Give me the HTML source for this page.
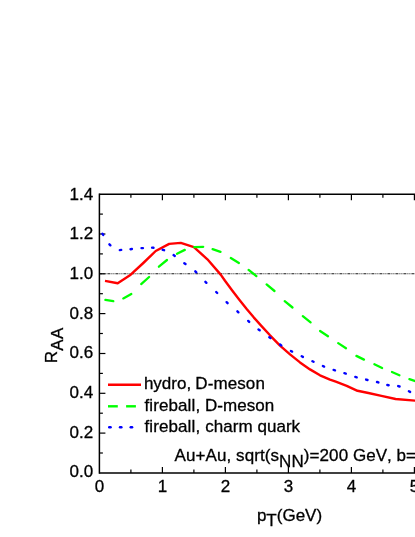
<!DOCTYPE html>
<html><head><meta charset="utf-8"><title>RAA</title>
<style>
html,body{margin:0;padding:0;background:#fff;}
body{width:415px;height:537px;overflow:hidden;font-family:"Liberation Sans",sans-serif;}
svg{display:block;will-change:transform;}
text{font-family:"Liberation Sans",sans-serif;fill:#000;font-kerning:none;stroke:#000;stroke-width:0.3px;}
</style></head><body>
<svg width="415" height="537" viewBox="0 0 415 537">
<rect width="415" height="537" fill="#fff"/>
<line x1="99.4" y1="273.8" x2="416" y2="273.8" stroke="#1a1a1a" stroke-width="1.1" stroke-dasharray="3 1 1 1 1 1"/>
<g stroke="#000" stroke-width="1.5" fill="none">
<line x1="99.4" y1="193.39999999999998" x2="99.4" y2="473.7"/>
<line x1="99.4" y1="194.2" x2="416" y2="194.2"/>
<line x1="99.4" y1="472.9" x2="416" y2="472.9"/>
</g>
<g stroke="#000" stroke-width="1.2">
<line x1="130.9" y1="472.9" x2="130.9" y2="469.4"/>
<line x1="130.9" y1="194.2" x2="130.9" y2="197.7"/>
<line x1="162.4" y1="472.9" x2="162.4" y2="466.9"/>
<line x1="162.4" y1="194.2" x2="162.4" y2="200.2"/>
<line x1="193.9" y1="472.9" x2="193.9" y2="469.4"/>
<line x1="193.9" y1="194.2" x2="193.9" y2="197.7"/>
<line x1="225.4" y1="472.9" x2="225.4" y2="466.9"/>
<line x1="225.4" y1="194.2" x2="225.4" y2="200.2"/>
<line x1="256.9" y1="472.9" x2="256.9" y2="469.4"/>
<line x1="256.9" y1="194.2" x2="256.9" y2="197.7"/>
<line x1="288.4" y1="472.9" x2="288.4" y2="466.9"/>
<line x1="288.4" y1="194.2" x2="288.4" y2="200.2"/>
<line x1="319.9" y1="472.9" x2="319.9" y2="469.4"/>
<line x1="319.9" y1="194.2" x2="319.9" y2="197.7"/>
<line x1="351.4" y1="472.9" x2="351.4" y2="466.9"/>
<line x1="351.4" y1="194.2" x2="351.4" y2="200.2"/>
<line x1="382.9" y1="472.9" x2="382.9" y2="469.4"/>
<line x1="382.9" y1="194.2" x2="382.9" y2="197.7"/>
<line x1="414.4" y1="472.9" x2="414.4" y2="466.9"/>
<line x1="414.4" y1="194.2" x2="414.4" y2="200.2"/>
<line x1="99.4" y1="453.0" x2="102.9" y2="453.0"/>
<line x1="99.4" y1="433.1" x2="105.4" y2="433.1"/>
<line x1="99.4" y1="413.2" x2="102.9" y2="413.2"/>
<line x1="99.4" y1="393.3" x2="105.4" y2="393.3"/>
<line x1="99.4" y1="373.4" x2="102.9" y2="373.4"/>
<line x1="99.4" y1="353.5" x2="105.4" y2="353.5"/>
<line x1="99.4" y1="333.5" x2="102.9" y2="333.5"/>
<line x1="99.4" y1="313.6" x2="105.4" y2="313.6"/>
<line x1="99.4" y1="293.7" x2="102.9" y2="293.7"/>
<line x1="99.4" y1="273.8" x2="105.4" y2="273.8"/>
<line x1="99.4" y1="253.9" x2="102.9" y2="253.9"/>
<line x1="99.4" y1="234.0" x2="105.4" y2="234.0"/>
<line x1="99.4" y1="214.1" x2="102.9" y2="214.1"/>
</g>
<polyline fill="none" stroke="#ff0000" stroke-width="2.4" stroke-linejoin="round" points="105.0,280.9 117.7,283.2 130.7,274.7 143.3,263 155.7,251 169.2,243.9 180.8,242.9 193.9,247.2 207.4,259.3 220.9,274.9 225,280.8 232.2,290.5 239.5,299.9 246.7,309.0 253.9,317.6 261.1,325.6 270,335.3 280,345.6 290,354.4 300,362.4 310,369.4 320,375.3 330,379.6 335.8,381.7 346.7,385.8 357.5,390.8 368.4,393.0 381.4,395.8 395.6,399.0 418,400.9"/>
<line x1="105.4" y1="299.9" x2="113.3" y2="301.2" stroke="#00ff00" stroke-width="2.3" stroke-linecap="round"/>
<line x1="123.3" y1="298.4" x2="131.3" y2="294.0" stroke="#00ff00" stroke-width="2.3" stroke-linecap="round"/>
<line x1="141.2" y1="284.1" x2="149.1" y2="277.0" stroke="#00ff00" stroke-width="2.3" stroke-linecap="round"/>
<line x1="158.9" y1="266.7" x2="167.0" y2="260.0" stroke="#00ff00" stroke-width="2.3" stroke-linecap="round"/>
<line x1="177.0" y1="253.7" x2="184.8" y2="249.9" stroke="#00ff00" stroke-width="2.3" stroke-linecap="round"/>
<line x1="194.3" y1="247.2" x2="203.2" y2="246.8" stroke="#00ff00" stroke-width="2.3" stroke-linecap="round"/>
<line x1="212.6" y1="249.2" x2="220.5" y2="251.9" stroke="#00ff00" stroke-width="2.3" stroke-linecap="round"/>
<line x1="230.8" y1="258.0" x2="238.9" y2="263.0" stroke="#00ff00" stroke-width="2.3" stroke-linecap="round"/>
<line x1="248.6" y1="269.9" x2="256.4" y2="276.1" stroke="#00ff00" stroke-width="2.3" stroke-linecap="round"/>
<line x1="266.6" y1="284.4" x2="274.5" y2="291.0" stroke="#00ff00" stroke-width="2.3" stroke-linecap="round"/>
<line x1="284.7" y1="301.2" x2="292.5" y2="307.5" stroke="#00ff00" stroke-width="2.3" stroke-linecap="round"/>
<line x1="302.8" y1="316.2" x2="310.6" y2="322.4" stroke="#00ff00" stroke-width="2.3" stroke-linecap="round"/>
<line x1="320.1" y1="331.0" x2="328.0" y2="336.2" stroke="#00ff00" stroke-width="2.3" stroke-linecap="round"/>
<line x1="338.2" y1="343.1" x2="346.0" y2="348.2" stroke="#00ff00" stroke-width="2.3" stroke-linecap="round"/>
<line x1="356.4" y1="355.9" x2="364.0" y2="359.6" stroke="#00ff00" stroke-width="2.3" stroke-linecap="round"/>
<line x1="374.4" y1="364.3" x2="382.1" y2="368.0" stroke="#00ff00" stroke-width="2.3" stroke-linecap="round"/>
<line x1="392.0" y1="372.0" x2="399.4" y2="375.2" stroke="#00ff00" stroke-width="2.3" stroke-linecap="round"/>
<line x1="409.4" y1="379.1" x2="417.6" y2="381.9" stroke="#00ff00" stroke-width="2.3" stroke-linecap="round"/>
<line x1="102.4" y1="233.7" x2="103.2" y2="234.9" stroke="#0000ff" stroke-width="2.4" stroke-linecap="round"/>
<line x1="109.4" y1="244.3" x2="110.4" y2="245.3" stroke="#0000ff" stroke-width="2.4" stroke-linecap="round"/>
<line x1="119.8" y1="250.1" x2="121.2" y2="249.9" stroke="#0000ff" stroke-width="2.4" stroke-linecap="round"/>
<line x1="130.5" y1="249.2" x2="131.9" y2="249.0" stroke="#0000ff" stroke-width="2.4" stroke-linecap="round"/>
<line x1="141.5" y1="248.1" x2="142.9" y2="248.1" stroke="#0000ff" stroke-width="2.4" stroke-linecap="round"/>
<line x1="152.1" y1="247.6" x2="153.5" y2="247.8" stroke="#0000ff" stroke-width="2.4" stroke-linecap="round"/>
<line x1="162.7" y1="249.8" x2="164.1" y2="250.2" stroke="#0000ff" stroke-width="2.4" stroke-linecap="round"/>
<line x1="173.6" y1="255.1" x2="174.8" y2="255.9" stroke="#0000ff" stroke-width="2.4" stroke-linecap="round"/>
<line x1="184.3" y1="263.2" x2="185.5" y2="264.0" stroke="#0000ff" stroke-width="2.4" stroke-linecap="round"/>
<line x1="195.3" y1="271.3" x2="196.3" y2="272.3" stroke="#0000ff" stroke-width="2.4" stroke-linecap="round"/>
<line x1="205.4" y1="281.8" x2="206.4" y2="282.8" stroke="#0000ff" stroke-width="2.4" stroke-linecap="round"/>
<line x1="216.2" y1="292.0" x2="217.2" y2="293.0" stroke="#0000ff" stroke-width="2.4" stroke-linecap="round"/>
<line x1="226.6" y1="302.2" x2="227.6" y2="303.2" stroke="#0000ff" stroke-width="2.4" stroke-linecap="round"/>
<line x1="237.4" y1="311.3" x2="238.4" y2="312.3" stroke="#0000ff" stroke-width="2.4" stroke-linecap="round"/>
<line x1="248.2" y1="320.9" x2="249.2" y2="321.9" stroke="#0000ff" stroke-width="2.4" stroke-linecap="round"/>
<line x1="258.5" y1="329.5" x2="259.7" y2="330.3" stroke="#0000ff" stroke-width="2.4" stroke-linecap="round"/>
<line x1="269.3" y1="337.2" x2="270.5" y2="338.0" stroke="#0000ff" stroke-width="2.4" stroke-linecap="round"/>
<line x1="280.1" y1="344.6" x2="281.3" y2="345.4" stroke="#0000ff" stroke-width="2.4" stroke-linecap="round"/>
<line x1="290.9" y1="351.0" x2="292.1" y2="351.6" stroke="#0000ff" stroke-width="2.4" stroke-linecap="round"/>
<line x1="301.7" y1="356.3" x2="302.9" y2="356.9" stroke="#0000ff" stroke-width="2.4" stroke-linecap="round"/>
<line x1="312.4" y1="361.2" x2="313.6" y2="361.8" stroke="#0000ff" stroke-width="2.4" stroke-linecap="round"/>
<line x1="322.9" y1="366.0" x2="324.1" y2="366.6" stroke="#0000ff" stroke-width="2.4" stroke-linecap="round"/>
<line x1="333.6" y1="369.9" x2="335.0" y2="370.3" stroke="#0000ff" stroke-width="2.4" stroke-linecap="round"/>
<line x1="344.4" y1="373.2" x2="345.8" y2="373.6" stroke="#0000ff" stroke-width="2.4" stroke-linecap="round"/>
<line x1="355.3" y1="376.9" x2="356.7" y2="377.3" stroke="#0000ff" stroke-width="2.4" stroke-linecap="round"/>
<line x1="366.1" y1="379.6" x2="367.5" y2="380.0" stroke="#0000ff" stroke-width="2.4" stroke-linecap="round"/>
<line x1="377.0" y1="382.0" x2="378.4" y2="382.4" stroke="#0000ff" stroke-width="2.4" stroke-linecap="round"/>
<line x1="387.3" y1="385.0" x2="388.7" y2="385.2" stroke="#0000ff" stroke-width="2.4" stroke-linecap="round"/>
<line x1="398.2" y1="386.1" x2="399.6" y2="386.5" stroke="#0000ff" stroke-width="2.4" stroke-linecap="round"/>
<line x1="408.9" y1="391.3" x2="410.1" y2="391.9" stroke="#0000ff" stroke-width="2.4" stroke-linecap="round"/>
<g font-size="17">
<text x="93.2" y="477.4" text-anchor="end">0.0</text>
<text x="93.2" y="437.7" text-anchor="end">0.2</text>
<text x="93.2" y="398.0" text-anchor="end">0.4</text>
<text x="93.2" y="358.3" text-anchor="end">0.6</text>
<text x="93.2" y="318.6" text-anchor="end">0.8</text>
<text x="93.2" y="278.9" text-anchor="end">1.0</text>
<text x="93.2" y="239.2" text-anchor="end">1.2</text>
<text x="93.2" y="199.5" text-anchor="end">1.4</text>
<text x="99.4" y="492.3" text-anchor="middle">0</text>
<text x="162.4" y="492.3" text-anchor="middle">1</text>
<text x="225.4" y="492.3" text-anchor="middle">2</text>
<text x="288.4" y="492.3" text-anchor="middle">3</text>
<text x="351.4" y="492.3" text-anchor="middle">4</text>
<text x="414.4" y="492.3" text-anchor="middle">5</text>
</g>
<line x1="108" y1="384.7" x2="141" y2="384.7" stroke="#ff0000" stroke-width="2.4"/>
<line x1="108" y1="406.3" x2="117.8" y2="406.3" stroke="#00ff00" stroke-width="2.4"/>
<line x1="126.1" y1="406.3" x2="135.9" y2="406.3" stroke="#00ff00" stroke-width="2.4"/>
<line x1="109.2" y1="427.3" x2="110.6" y2="427.3" stroke="#0000ff" stroke-width="2.4" stroke-linecap="round"/>
<line x1="120.0" y1="427.3" x2="121.4" y2="427.3" stroke="#0000ff" stroke-width="2.4" stroke-linecap="round"/>
<line x1="130.7" y1="427.3" x2="132.1" y2="427.3" stroke="#0000ff" stroke-width="2.4" stroke-linecap="round"/>
<g font-size="17">
<text x="143.9" y="389.3">hydro, <tspan x="195.3" letter-spacing="0.1">D-meson</tspan></text>
<text x="144.5" y="410.5"><tspan letter-spacing="0.1">fireball,</tspan> <tspan x="205.0" letter-spacing="0.06">D-meson</tspan></text>
<text x="144.5" y="431.5"><tspan letter-spacing="0.1">fireball,</tspan> <tspan x="205.2" letter-spacing="0.06">charm</tspan> <tspan x="257.6">quark</tspan></text>
<text x="174.6" y="461.2" letter-spacing="0.08">Au+Au, sqrt(s<tspan dy="5.3">NN</tspan><tspan dy="-5.3">)=200 </tspan><tspan x="353" letter-spacing="0">GeV, b=7 fm</tspan></text>
</g>
<text font-size="17" x="256.9" y="521">p<tspan dy="5.2">T</tspan><tspan dy="-5.2">(GeV)</tspan></text>
<text font-size="17" transform="translate(56.6,363.3) rotate(-90)">R<tspan dx="0.3" dy="5.9" letter-spacing="0.5">AA</tspan></text>
</svg>
</body></html>
